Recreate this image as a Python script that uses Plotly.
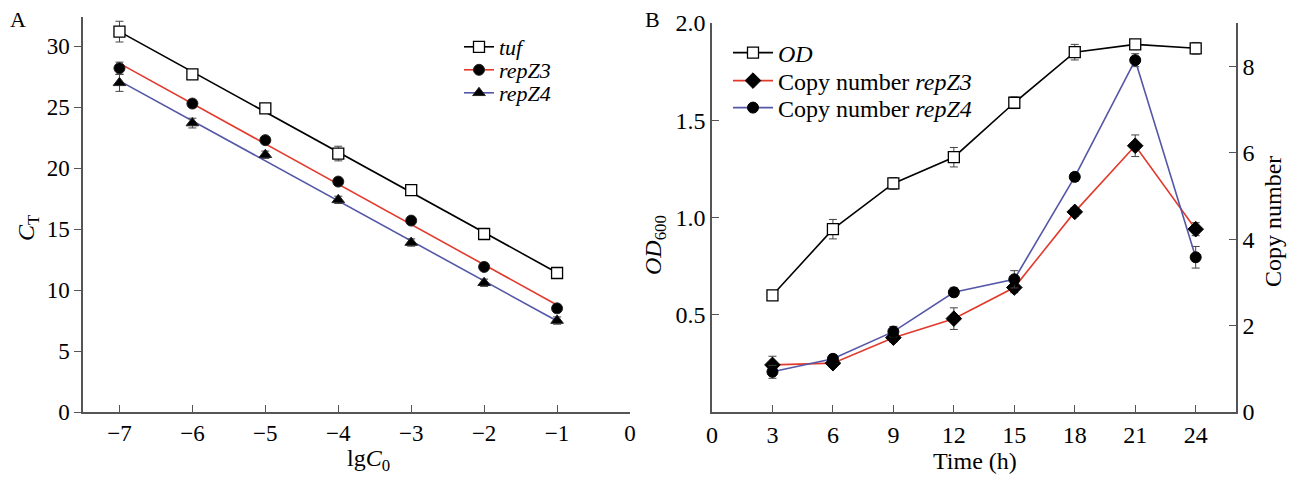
import numpy as np
import plotly.graph_objects as go

# ---------- Panel A data ----------
lgC0 = [-7, -6, -5, -4, -3, -2, -1]
tuf = [31.2, 27.7, 24.9, 21.2, 18.2, 14.6, 11.4]
tuf_err = [0.85, 0.3, 0.3, 0.6, 0.3, 0.3, 0.3]
repZ3_A = [28.2, 25.3, 22.3, 18.9, 15.7, 11.9, 8.5]
repZ3_A_err = [0.5, 0.3, 0.3, 0.3, 0.3, 0.3, 0.3]
repZ4_A = [27.0, 23.7, 21.1, 17.4, 13.9, 10.6, 7.5]
repZ4_A_err = [0.7, 0.4, 0.3, 0.3, 0.3, 0.3, 0.3]

# ---------- Panel B data ----------
time_h = [3, 6, 9, 12, 15, 18, 21, 24]
od600 = [0.60, 0.94, 1.175, 1.31, 1.59, 1.85, 1.89, 1.87]
od600_err = [0.02, 0.05, 0.03, 0.05, 0.03, 0.04, 0.015, 0.03]
copy_repZ3 = [1.09, 1.13, 1.72, 2.16, 2.88, 4.63, 6.16, 4.23]
copy_repZ3_err = [0.2, 0.1, 0.1, 0.25, 0.12, 0.1, 0.25, 0.15]
copy_repZ4 = [0.93, 1.23, 1.86, 2.77, 3.07, 5.44, 8.14, 3.58]
copy_repZ4_err = [0.15, 0.1, 0.12, 0.1, 0.2, 0.1, 0.15, 0.25]

FONT = "Liberation Serif"
RED = "#e23b2e"
BLUE = "#5457a6"
AXC = "#555555"
W, H = 1296, 477


def px_x(p):
    return p / W


def px_y(p):
    return (H - p) / H


fig = go.Figure()

# ---- Panel A ----
seriesA = [
    ("tuf", tuf, tuf_err, "black", dict(symbol="square", size=11, color="white", line=dict(color="black", width=1.3))),
    ("repZ3", repZ3_A, repZ3_A_err, RED, dict(symbol="circle", size=11, color="black", line=dict(color="#222", width=1))),
    ("repZ4", repZ4_A, repZ4_A_err, BLUE, dict(symbol="triangle-up", size=11, color="black", line=dict(color="#222", width=1))),
]
xs = np.array(lgC0, dtype=float)
for name, ys, err, col, mk in seriesA:
    k, b = np.polyfit(xs, np.array(ys), 1)
    xl = [xs.min(), xs.max()]
    fig.add_trace(go.Scatter(x=xl, y=[k * v + b for v in xl], mode="lines",
                             line=dict(color=col, width=1.6), showlegend=False,
                             xaxis="x", yaxis="y", hoverinfo="skip"))
for name, ys, err, col, mk in seriesA:
    fig.add_trace(go.Scatter(x=lgC0, y=ys, mode="markers", marker=mk,
                             error_y=dict(type="data", array=err, color="#444", thickness=1, width=4),
                             showlegend=False, xaxis="x", yaxis="y"))
legA_names = ["legend", "legend3", "legend4"]
for (name, ys, err, col, mk), lg in zip(seriesA, legA_names):
    fig.add_trace(go.Scatter(x=[None], y=[None], mode="lines+markers", marker=mk,
                             line=dict(color=col, width=1.6), name="<i>%s</i>" % name,
                             legend=lg, xaxis="x", yaxis="y"))

# ---- Panel B ----
od_mk = dict(symbol="square", size=11, color="white", line=dict(color="black", width=1.3))
z3_mk = dict(symbol="diamond", size=12, color="black", line=dict(color="black", width=1))
z4_mk = dict(symbol="circle", size=11, color="black", line=dict(color="black", width=1))
fig.add_trace(go.Scatter(x=time_h, y=copy_repZ3, mode="lines+markers", marker=z3_mk,
                         line=dict(color=RED, width=1.6),
                         error_y=dict(type="data", array=copy_repZ3_err, color="#444", thickness=1, width=4),
                         showlegend=False, xaxis="x2", yaxis="y3"))
fig.add_trace(go.Scatter(x=time_h, y=copy_repZ4, mode="lines+markers", marker=z4_mk,
                         line=dict(color=BLUE, width=1.6),
                         error_y=dict(type="data", array=copy_repZ4_err, color="#444", thickness=1, width=4),
                         showlegend=False, xaxis="x2", yaxis="y3"))
fig.add_trace(go.Scatter(x=time_h, y=od600, mode="lines+markers", marker=od_mk,
                         line=dict(color="black", width=1.6),
                         error_y=dict(type="data", array=od600_err, color="#444", thickness=1, width=4),
                         showlegend=False, xaxis="x2", yaxis="y2"))
legB_names = ["legend2", "legend5", "legend6"]
for (nm, col, mk), lg in zip([("<i>OD</i>", "black", od_mk),
                              ("Copy number <i>repZ3</i>", RED, z3_mk),
                              ("Copy number <i>repZ4</i>", BLUE, z4_mk)], legB_names):
    fig.add_trace(go.Scatter(x=[None], y=[None], mode="lines+markers", marker=mk,
                             line=dict(color=col, width=1.6), name=nm,
                             legend=lg, xaxis="x2", yaxis="y2"))

axis_common = dict(showline=True, linecolor=AXC, linewidth=1.5, showgrid=False, zeroline=False,
                   ticklen=7, tickcolor=AXC, tickwidth=1.3, automargin=False)


def tf(size):
    return dict(size=size, family=FONT, color="black")


def leg(xp, yp, size, iw):
    return dict(x=px_x(xp), y=px_y(yp), xanchor="left", yanchor="middle", bgcolor="rgba(0,0,0,0)",
                font=tf(size), itemwidth=iw, tracegroupgap=0)


def ann(text, xp, yp, size, angle=0):
    return dict(text=text, x=px_x(xp), y=px_y(yp), xref="paper", yref="paper", showarrow=False,
                xanchor="center", yanchor="middle", textangle=angle, font=tf(size))


fig.update_layout(
    width=W, height=H,
    margin=dict(l=0, r=0, t=0, b=0),
    paper_bgcolor="white", plot_bgcolor="white",
    font=dict(family=FONT, color="black", size=22),
    xaxis=dict(domain=[px_x(83), px_x(630)], range=[-7.5, 0], tickvals=[-7, -6, -5, -4, -3, -2, -1, 0],
               ticktext=["\u22127", "\u22126", "\u22125", "\u22124", "\u22123", "\u22122", "\u22121", "0"],
               ticks="inside", anchor="y", tickfont=tf(23), **axis_common),
    yaxis=dict(domain=[px_y(412), px_y(17)], range=[0, 32.4], tickvals=[0, 5, 10, 15, 20, 25, 30],
               ticks="outside", anchor="x", tickfont=tf(23), **axis_common),
    xaxis2=dict(domain=[px_x(712), px_x(1236)], range=[0, 26], tickvals=[0, 3, 6, 9, 12, 15, 18, 21, 24],
                ticks="inside", anchor="y2", tickfont=tf(24), **axis_common),
    yaxis2=dict(domain=[px_y(412), px_y(23)], range=[0, 2.0], tickvals=[0.5, 1.0, 1.5, 2.0],
                ticktext=["0.5", "1.0", "1.5", "2.0"],
                ticks="inside", anchor="x2", tickfont=tf(24), **axis_common),
    yaxis3=dict(domain=[px_y(412), px_y(23)], range=[0, 9.0], tickvals=[0, 2, 4, 6, 8],
                ticks="inside", anchor="x2", overlaying="y2", side="right", tickfont=tf(24),
                **axis_common),
    legend=leg(459, 47, 22, 30),
    legend3=leg(459, 70, 22, 30),
    legend4=leg(459, 93, 22, 30),
    legend2=leg(728, 53, 24, 40),
    legend5=leg(728, 81, 24, 40),
    legend6=leg(728, 108, 24, 40),
    annotations=[
        ann("A", 18, 20, 22),
        ann("B", 652, 20, 22),
        ann("<i>C</i><sub>T</sub>", 28, 228, 24, -90),
        ann("lg<i>C</i><sub>0</sub>", 368, 460, 24),
        ann("<i>OD</i><sub>600</sub>", 655, 245, 24, -90),
        ann("Time (h)", 975, 461, 24),
        ann("Copy number", 1273, 222, 24, -90),
    ],
)

fig.write_html("out.html", config={"displayModeBar": False})

# remove the default page margin so the figure sits at the window's top-left corner
with open("out.html", "r", encoding="utf-8") as f:
    html = f.read()
html = html.replace("<body>", '<body style="margin:0;padding:0;">', 1)
with open("out.html", "w", encoding="utf-8") as f:
    f.write(html)
